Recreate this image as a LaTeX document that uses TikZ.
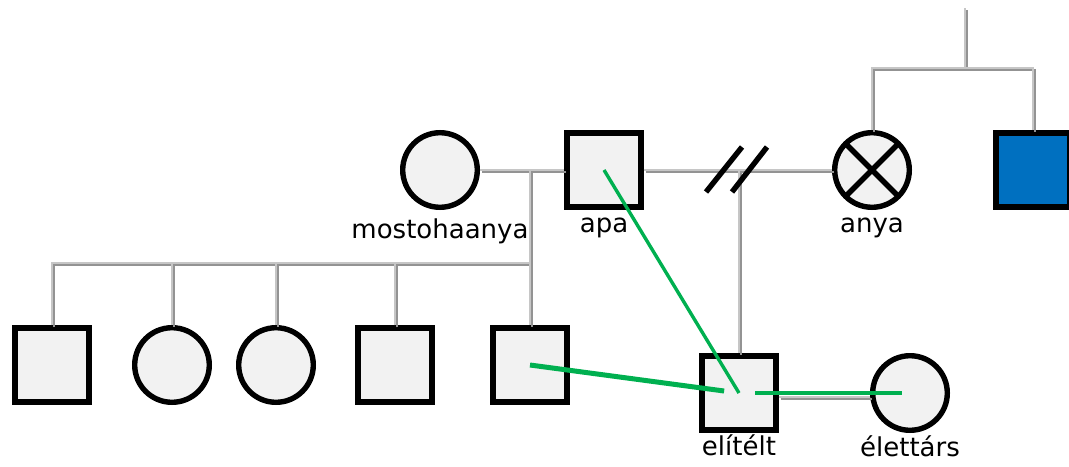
\documentclass[tikz,border=0pt]{standalone}
\usepackage{fontspec}
\setmainfont{DejaVu Sans}
\usetikzlibrary{positioning}
\definecolor{bondgreen}{HTML}{00B050}
\definecolor{sibblue}{HTML}{0070C0}

% all grey family lines, drawn twice (shade, then line)
\newcommand\familylines{%
  \draw[kin] (gp) -- (gpbar);
  \draw[kin] (anya.north) |- (gpbar) -| (sib.north);
  \draw[kin] (step.east) -- (apa.west);
  \draw[kin] (m1) -- (c5.north);
  \foreach \c in {c1,c2,c3,c4}
    \draw[kin] (\c.north) |- (kbar);
  \draw[kin] (apa.east) -- (anya.west);
  \draw[kin] (m2) -- (eli.north);
  \draw[kin] ([yshift=-2pt]eli.east) -- ([yshift=-2pt]partner.west);
}

\begin{document}
\begin{tikzpicture}[
  x=0.5pt, y=-0.5pt,
  font=\fontsize{13}{15}\selectfont,
  person/.style={draw, line width=2.7pt, fill=gray!10, inner sep=0pt},
  male/.style={person, rectangle, minimum size=37pt},
  female/.style={person, circle, minimum size=37.3pt},
  crossed/.style={path picture={
    \draw[line width=2.7pt] (path picture bounding box.north west) -- (path picture bounding box.south east)
      (path picture bounding box.south west) -- (path picture bounding box.north east);}},
  every label/.style={inner sep=1pt, font=\fontsize{13}{15}\selectfont},
  label distance=3pt,
  kin/.style={draw=gray!45, line width=1.3pt},
  shade/.style={kin/.style={draw=gray!85, line width=1.3pt}},
  divorce/.style={draw, line width=2.7pt},
  bond/.style={draw=bondgreen, line width=1.7pt},
]
  \useasboundingbox (0,0) rectangle (1069,466);

  % Parents' generation
  \node[female, label=below:mostohaanya] (step) at (440,170) {};
  \node[male, label=below:apa] (apa) at (604,170) {};
  \node[female, crossed, label=below:anya] (anya) at (872,170) {};
  \node[male, fill=sibblue] (sib) at (1033,170) {};

  % Children
  \node[male] (c1) at (52,365) {};
  \node[female] (c2) at (172,365) {};
  \node[female] (c3) at (276,365) {};
  \node[male] (c4) at (395,365) {};
  \node[male] (c5) at (530,365) {};
  \node[male, label={[label distance=0pt]below:elítélt}] (eli) at (739,393) {};
  \node[female, label={[label distance=0pt]below:élettárs}] (partner) at (910,393) {};

  % Junctions
  \coordinate (gp) at (965,8);
  \coordinate (gpbar) at (965,68);
  \coordinate (m1) at (530,170);
  \coordinate (kbar) at (530,263);
  \coordinate (m2) at (739,170);

  % Family lines
  \begin{scope}[shade, transform canvas={shift={(1pt,-1pt)}}]
    \familylines
  \end{scope}
  \familylines

  % Divorce mark
  \draw[divorce] (706,192) -- (742,147) (732,192) -- (767,147);

  % Relations
  \draw[bond, line width=2.5pt, shorten >=7.5pt] (c5.center) -- (eli.center);
  \draw[bond] (apa.center) -- (eli.center);
  \draw[bond, shorten <=8pt, shorten >=4pt] (eli.center) -- (partner.center);
\end{tikzpicture}
\end{document}
